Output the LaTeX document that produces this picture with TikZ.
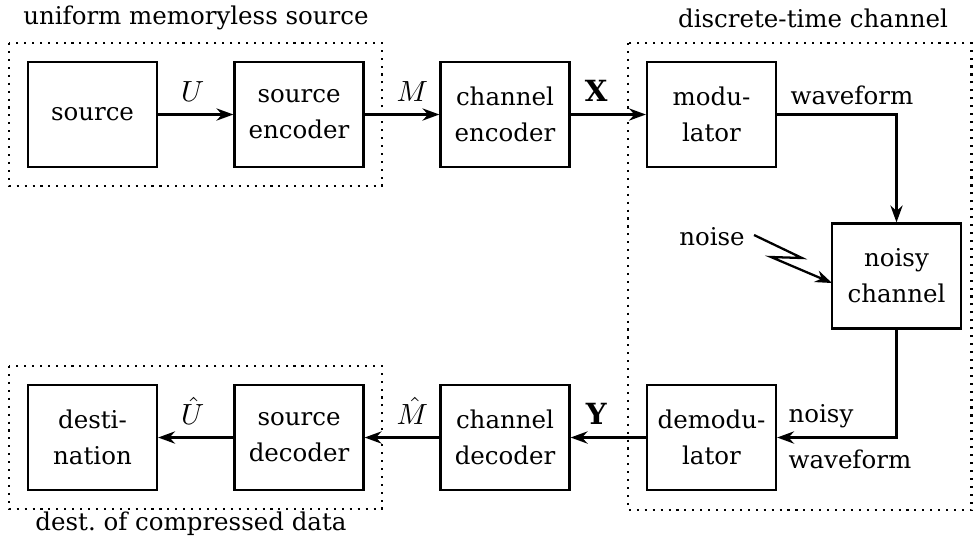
\documentclass[tikz,border=0pt]{standalone}
\usepackage{fontspec}
\setmainfont{DejaVu Serif}
\usetikzlibrary{arrows.meta}
\def\myu{0.343}
\tikzset{
  blk/.style={draw, line width=0.78pt, minimum width={129*\myu pt}, minimum height={105*\myu pt}, align=center, inner sep=0pt, font=\fontsize{8.4}{12.4}\selectfont},
  arr/.style={line width=0.78pt, -{Stealth[length=5.8pt,width=4.2pt,inset=1.9pt]}},
  lbl/.style={inner sep=0pt, font=\fontsize{8.4}{12.4}\selectfont},
  mlbl/.style={inner sep=0pt, font=\fontsize{10}{12.4}\selectfont},
  grp/.style={dotted, line width=0.72pt},
}
\begin{document}
\begin{tikzpicture}[x=\myu pt, y=-\myu pt]
\useasboundingbox (0,0) rectangle (973,545);
% group boxes
\draw[grp] (9,43) rectangle (382,186);
\draw[grp] (9,366) rectangle (382,509);
\draw[grp] (628,43) rectangle (971.5,510);
\node[lbl] (tsrc) at (196,18) {uniform memoryless source};
\node[lbl] (tchan) at (813,18) {discrete-time channel};
\node[lbl] (tdest) at (191,524) {dest.~of compressed data};
% blocks
\node[blk] (src)   at (92.5,114.5) {source};
\node[blk] (senc)  at (299,114.5)  {source\\encoder};
\node[blk] (cenc)  at (505,114.5)  {channel\\encoder};
\node[blk] (mod)   at (711.5,114.5) {modu-\\lator};
\node[blk] (chan)  at (896.5,276)  {noisy\\channel};
\node[blk] (demod) at (711.5,437.5) {demodu-\\lator};
\node[blk] (cdec)  at (505,437.5)  {channel\\decoder};
\node[blk] (sdec)  at (299,437.5)  {source\\decoder};
\node[blk] (dest)  at (92.5,437.5) {desti-\\nation};
% forward chain
\draw[arr] (src) -- node[mlbl, pos=.46, above=4pt] {$U$} (senc);
\draw[arr] (senc) -- node[mlbl, pos=.64, above=4pt] {$M$} (cenc);
\draw[arr] (cenc) -- node[mlbl, pos=.34, above=4pt] {$\mathbf{X}$} (mod);
\draw[arr] (mod.east) -| (chan.north);
\node[lbl, anchor=base west] (wf1) at (790,104) {waveform};
% noise
\node[lbl, anchor=base] (noise) at (712,245) {noise};
\coordinate (z1) at (754,235);
\coordinate (z2) at (802,258);
\coordinate (z3) at (771,257);
\coordinate (z4) at (832,283);
\draw[arr] (z1) -- (z2) -- (z3) -- (z4);
% return chain
\draw[arr] (chan.south) |- (demod.east);
\node[lbl, anchor=base west] (nz) at (788,422) {noisy};
\node[lbl, anchor=base west] (wf2) at (788,468) {waveform};
\draw[arr] (demod) -- node[mlbl, pos=.66, above=4pt] {$\mathbf{Y}$} (cdec);
\draw[arr] (cdec) -- node[mlbl, pos=.36, above=4pt] {$\hat{M}$} (sdec);
\draw[arr] (sdec) -- node[mlbl, pos=.54, above=4pt] {$\hat{U}$} (dest);
\end{tikzpicture}
\end{document}
